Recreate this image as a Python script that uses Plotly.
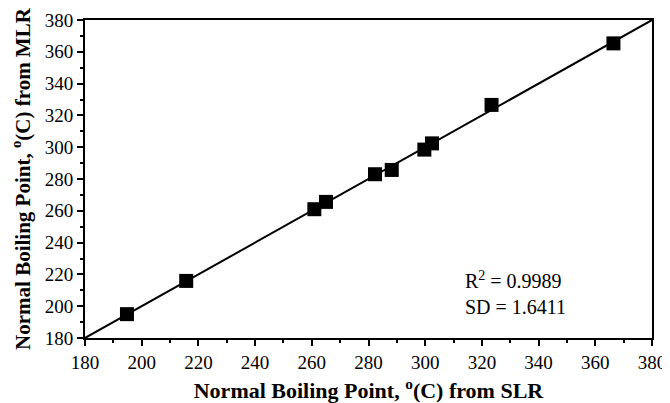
import plotly.graph_objects as go

slr = [194.8, 215.7, 260.9, 265.0, 282.3, 288.2, 299.7, 302.4, 323.4, 366.4]
mlr = [195.0, 215.9, 261.0, 265.6, 283.0, 285.7, 298.5, 302.4, 326.6, 365.3]
fit_x = [180, 380]
fit_y = [180, 380]
ticks = [180, 200, 220, 240, 260, 280, 300, 320, 340, 360, 380]

FONT = "Liberation Serif"

fig = go.Figure()
fig.add_trace(go.Scatter(x=fit_x, y=fit_y, mode="lines",
                         line=dict(color="black", width=2), showlegend=False,
                         cliponaxis=False))
fig.add_trace(go.Scatter(x=slr, y=mlr, mode="markers",
                         marker=dict(symbol="square", size=14, color="black"),
                         showlegend=False))

axis_common = dict(
    range=[180, 380], tickvals=ticks, ticks="outside", ticklen=6, tickwidth=2,
    tickcolor="black", showline=True, linecolor="black", linewidth=2,
    mirror=True, showgrid=False, zeroline=False, automargin=False,
    tickfont=dict(family=FONT, size=19, color="black"),
    minor=dict(ticks="outside", ticklen=3, tickwidth=1.5, tickcolor="black", dtick=10),
)

# page body has an 8px margin, so the figure is 8px smaller on each axis
fig.update_layout(
    width=662, height=395,
    margin=dict(l=77, r=18, t=12, b=65),
    paper_bgcolor="white", plot_bgcolor="white",
    xaxis=dict(**axis_common,
               title=dict(text="<b>Normal Boiling Point, <sup>o</sup>(C) from SLR</b>",
                          font=dict(family=FONT, size=22, color="black"), standoff=15)),
    yaxis=dict(**axis_common,
               title=dict(text="<b>Normal Boiling Point, <sup>o</sup>(C) from MLR</b>",
                          font=dict(family=FONT, size=21, color="black"), standoff=12)),
)

fig.add_annotation(x=313.5, y=208, xref="x", yref="y", xanchor="left", yanchor="middle",
                   align="left", showarrow=False,
                   text="R<sup>2</sup> = 0.9989<br>SD = 1.6411",
                   font=dict(family=FONT, size=20, color="black"))

fig.write_html("out.html")
